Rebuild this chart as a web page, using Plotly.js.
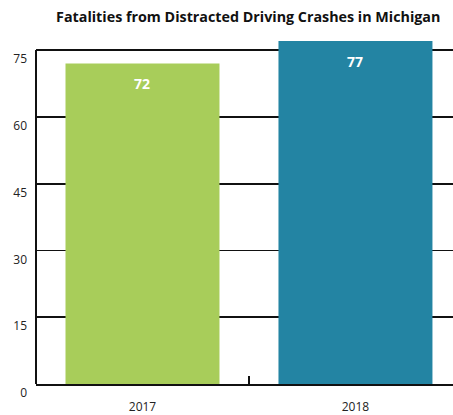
<!DOCTYPE html>
<html>
<head>
<meta charset="utf-8">
<script src="https://cdn.plot.ly/plotly-3.0.1.min.js"></script>
<style>html,body{margin:0;padding:0;background:#fff;}#chart{width:453px;height:415px;}</style>
</head>
<body>
<div id="chart"></div>
<script>
const years = ['2017', '2018'];
const fatalities = [72, 77];
const barColors = ['#a8cd5a', '#2384a3'];
const yTicks = [0, 15, 30, 45, 60, 75];
const chartTitle = 'Fatalities from Distracted Driving Crashes in Michigan';

const trace = {
  type: 'bar',
  x: years,
  y: fatalities,
  marker: {color: barColors},
  width: 0.723,
  hoverinfo: 'none'
};

const annotations = years.map((yr, i) => ({
  x: i, y: fatalities[i], xref: 'x', yref: 'y',
  text: '<b>' + fatalities[i] + '</b>',
  showarrow: false, yanchor: 'top', yshift: -9,
  font: {family: 'Open Sans', size: 14, color: '#ffffff'}
}));

const layout = {
  width: 453, height: 415,
  margin: {l: 36, r: 0, t: 40, b: 31},
  paper_bgcolor: '#fff', plot_bgcolor: '#fff',
  showlegend: false,
  title: {
    text: '<b>' + chartTitle + '</b>',
    font: {family: 'Open Sans', size: 14.3, color: '#111'},
    x: 0.548, xanchor: 'center', y: 0.958, yanchor: 'middle'
  },
  xaxis: {
    type: 'category',
    range: [-0.5, 1.458],
    showgrid: false, zeroline: false,
    showline: true, linecolor: '#111', linewidth: 2,
    ticks: 'inside', tickson: 'boundaries', ticklen: 8, tickwidth: 1.5, tickcolor: '#111',
    ticklabelstandoff: 11,
    tickfont: {family: 'Open Sans', size: 12, color: '#222'}
  },
  yaxis: {
    range: [0, 77.25],
    tickvals: yTicks,
    ticktext: yTicks.map(String),
    showgrid: true, gridcolor: '#111', gridwidth: 1.8,
    zeroline: false, showline: false, ticks: '',
    ticklabelshift: 9, ticklabelstandoff: 8,
    tickfont: {family: 'Open Sans', size: 12, color: '#222'}
  },
  shapes: [{
    type: 'line', xref: 'paper', yref: 'y',
    x0: 0, x1: 0, y0: 0, y1: Math.max(...yTicks),
    line: {color: '#111', width: 2}, layer: 'above'
  }],
  annotations: annotations
};

Plotly.newPlot('chart', [trace], layout, {displayModeBar: false, staticPlot: true});
</script>
</body>
</html>
